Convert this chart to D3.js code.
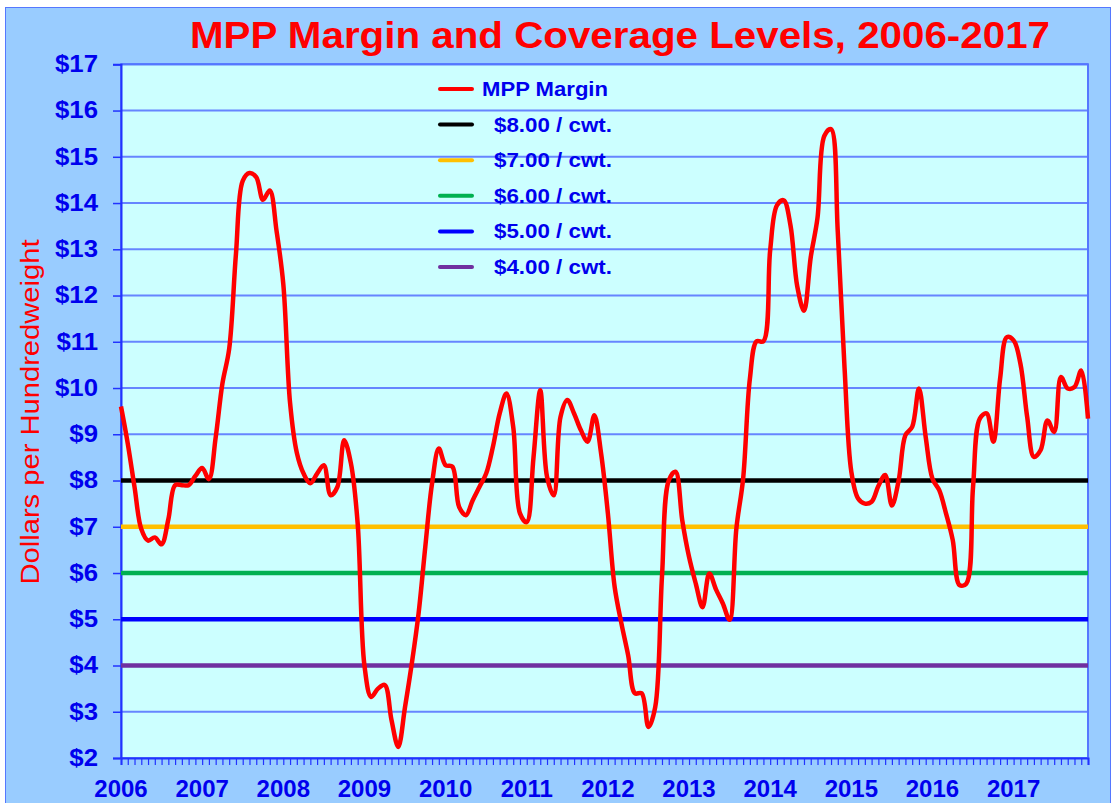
<!DOCTYPE html>
<html><head><meta charset="utf-8">
<script src="https://cdn.jsdelivr.net/npm/d3@7"></script>
<style>body{margin:0;background:#fff}svg{display:block}text{font-family:"Liberation Sans",Arial,sans-serif}</style>
</head><body><div id="c"></div>
<script>
const years = ["2006","2007","2008","2009","2010","2011","2012","2013","2014","2015","2016","2017"];
const yTicks = [2,3,4,5,6,7,8,9,10,11,12,13,14,15,16,17];
// Monthly MPP margin, Jan 2006 .. Dec 2017 ($/cwt)
const margin = [
 9.6,8.8,7.86,6.95,6.7,6.77,6.62,7.16,7.9,7.9,7.9,8.1,
 8.27,8.03,8.93,10.1,10.85,12.9,14.48,14.65,14.56,14.07,14.27,13.4,
 12.25,9.68,8.6,8.15,7.94,8.15,8.33,7.68,7.86,8.87,8.37,7.07,
 4.0,3.32,3.5,3.58,2.82,2.24,3.1,4.04,5.12,6.57,7.94,8.69,
 8.33,8.3,7.43,7.25,7.57,7.86,8.15,8.73,9.45,9.88,9.16,7.29,
 7.1,8.5,9.95,8.08,7.68,9.38,9.74,9.45,9.09,8.84,9.41,8.58,
 7.29,5.7,4.91,4.22,3.4,3.4,2.67,3.1,5.92,8.0,8.19,7.14,
 6.35,5.77,5.26,5.99,5.64,5.34,4.99,6.96,8.04,10.2,11.01,11.01,
 12.98,13.95,14.06,13.52,12.2,11.67,12.83,13.68,15.45,15.6,13.37,10.43,
 8.19,7.61,7.5,7.54,7.88,8.12,7.46,8.0,8.98,9.16,9.99,8.94,
 8.04,7.79,7.29,6.71,5.74,5.77,7.86,9.34,9.45,8.84,10.2,11.1,
 11.03,10.53,9.38,8.51,8.66,9.3,9.05,10.24,9.99,10.02,10.38,9.34
];
const levels = [8,7,6,5,4];
const levelColors = ["#000000","#FFC000","#00B050","#0000FF","#7030A0"];
const legendLabels = ["MPP Margin","$8.00 / cwt.","$7.00 / cwt.","$6.00 / cwt.","$5.00 / cwt.","$4.00 / cwt."];

const W=1113,H=803;
const L=121,R=1088,T=64.3,B=758;
const svg=d3.select("#c").append("svg").attr("width",W).attr("height",H);
svg.append("rect").attr("x",5.5).attr("y",7.5).attr("width",1105).attr("height",800)
  .attr("fill","#99CCFF").attr("stroke","#5577ff").attr("stroke-width",1);

const x=d3.scaleLinear().domain([0,margin.length-1]).range([L,R]);
const y=d3.scaleLinear().domain([2,17]).range([B,T]);

svg.append("rect").attr("x",L).attr("y",T).attr("width",R-L).attr("height",B-T).attr("fill","#CCFFFF");

// gridlines
svg.append("g").selectAll("line").data(yTicks.filter(d=>d>2)).join("line")
  .attr("x1",L).attr("x2",R).attr("y1",d=>y(d)).attr("y2",d=>y(d))
  .attr("stroke","#2233ff").attr("stroke-opacity",0.6).attr("stroke-width",2);

// plot border
svg.append("rect").attr("x",L).attr("y",T).attr("width",R-L).attr("height",B-T)
  .attr("fill","none").attr("stroke","#5577ff").attr("stroke-width",2);

// y axis
const ya=svg.append("g").attr("transform",`translate(${L},0)`)
  .call(d3.axisLeft(y).tickValues(yTicks).tickFormat(d=>"$"+d).tickSize(8).tickPadding(15));
ya.select(".domain").attr("stroke","#2233ff").attr("stroke-width",2);
ya.selectAll(".tick line").attr("stroke","#2233ff").attr("stroke-width",1.5);
ya.selectAll("text").attr("fill","#0000EE").attr("font-size",23).attr("font-weight","bold")
  .attr("font-family","'Liberation Sans',Arial,sans-serif")
  .each(function(){ const w=this.getComputedTextLength(); d3.select(this).attr("textLength",w*1.12).attr("lengthAdjust","spacingAndGlyphs"); });

// x axis: monthly ticks
const xa=svg.append("g").attr("transform",`translate(0,${B})`)
  .call(d3.axisBottom(x).tickValues(d3.range(0,margin.length)).tickFormat("").tickSize(7));
xa.select(".domain").attr("stroke","#2233ff").attr("stroke-width",2);
xa.selectAll(".tick line").attr("stroke","#2233ff").attr("stroke-width",1.2);
svg.append("g").selectAll("text").data(years).join("text")
  .attr("x",(d,i)=>x(i*12)).attr("y",797).attr("text-anchor","middle")
  .attr("fill","#0000EE").attr("font-size",24).attr("font-weight","bold").text(d=>d);

// coverage levels
svg.append("g").selectAll("line").data(levels).join("line")
  .attr("x1",L).attr("x2",R).attr("y1",d=>y(d)).attr("y2",d=>y(d))
  .attr("stroke",(d,i)=>levelColors[i]).attr("stroke-width",4.5);

// margin line
svg.append("path").datum(margin)
  .attr("d",d3.line().x((d,i)=>x(i)).y(d=>y(d)).curve(d3.curveCatmullRom.alpha(0.5)))
  .attr("fill","none").attr("stroke","#FF0000").attr("stroke-width",4.5).attr("stroke-linejoin","round");

// legend
const lg=svg.append("g");
const lcol=["#FF0000"].concat(levelColors);
legendLabels.forEach((t,i)=>{
  const cy=89+i*35.6;
  lg.append("line").attr("x1",440).attr("x2",472).attr("y1",cy).attr("y2",cy)
    .attr("stroke",lcol[i]).attr("stroke-width",4).attr("stroke-linecap","round");
  lg.append("text").attr("x",i===0?482:494).attr("y",cy+7).attr("fill","#0000EE")
    .attr("font-size",20).attr("font-weight","bold")
    .attr("textLength",i===0?126:118).attr("lengthAdjust","spacingAndGlyphs").text(t);
});

// title
svg.append("text").attr("x",190).attr("y",48)
  .attr("fill","#FF0000").attr("font-size",36).attr("font-weight","bold")
  .attr("textLength",860).attr("lengthAdjust","spacingAndGlyphs")
  .text("MPP Margin and Coverage Levels, 2006-2017");

// y axis title
svg.append("text").attr("transform","translate(39,412) rotate(-90)").attr("text-anchor","middle")
  .attr("fill","#FF0000").attr("font-size",25)
  .attr("textLength",345).attr("lengthAdjust","spacingAndGlyphs")
  .text("Dollars per Hundredweight");
</script></body></html>
